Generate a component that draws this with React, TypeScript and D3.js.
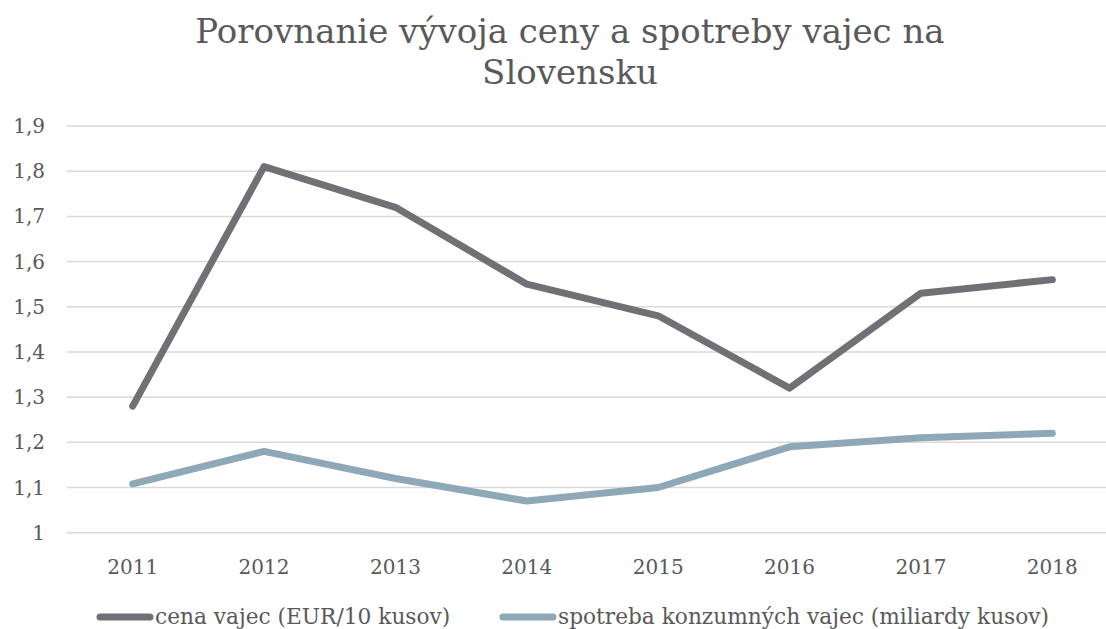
import React from "react";
import * as d3 from "d3";

const years = ["2011", "2012", "2013", "2014", "2015", "2016", "2017", "2018"];
const priceValues = [1.28, 1.81, 1.72, 1.55, 1.48, 1.32, 1.53, 1.56];
const consumptionValues = [1.108, 1.18, 1.12, 1.07, 1.1, 1.19, 1.21, 1.22];
const yTicks = [1, 1.1, 1.2, 1.3, 1.4, 1.5, 1.6, 1.7, 1.8, 1.9];
const seriesNames = ["cena vajec (EUR/10 kusov)", "spotreba konzumných vajec (miliardy kusov)"];
const titleLines = ["Porovnanie vývoja ceny a spotreby vajec na", "Slovensku"];

const W = 1106;
const H = 629;
const FONT = "'DejaVu Serif'";
const TEXT = "#595959";
const COLORS = ["#717075", "#8FA8B8"];

export default function App() {
  const x = d3.scalePoint<string>().domain(years).range([67, 1118]).padding(0.5);
  const y = d3.scaleLinear().domain([1, 1.9]).range([532.7, 126]);
  const line = d3
    .line<number>()
    .x((_, i) => x(years[i]) as number)
    .y((d) => y(d));
  const series = [priceValues, consumptionValues];
  const fmt = (v: number) => (Math.round(v * 10) / 10).toString().replace(".", ",");
  const ts = { fontFamily: FONT };

  return (
    <svg width={W} height={H} style={{ position: "absolute", left: 0, top: 0, background: "#fff" }}>
      <rect x={0} y={0} width={W} height={H} fill="#fff" />
      {titleLines.map((t, i) => (
        <text key={i} x={570} y={43 + i * 41} textAnchor="middle" fontSize={34} fill={TEXT} style={ts}>
          {t}
        </text>
      ))}
      {yTicks.map((t) => (
        <g key={t}>
          <line x1={67} x2={W} y1={y(t)} y2={y(t)} stroke="#d9d9d9" strokeWidth={1.5} />
          <text x={45} y={y(t) + 7} textAnchor="end" fontSize={20} fill={TEXT} style={ts}>
            {fmt(t)}
          </text>
        </g>
      ))}
      {years.map((yr) => (
        <text key={yr} x={x(yr)} y={574} textAnchor="middle" fontSize={20} fill={TEXT} style={ts}>
          {yr}
        </text>
      ))}
      {series.map((s, i) => (
        <path
          key={i}
          d={line(s) as string}
          fill="none"
          stroke={COLORS[i]}
          strokeWidth={7}
          strokeLinecap="round"
          strokeLinejoin="round"
        />
      ))}
      {seriesNames.map((n, i) => {
        const x0 = i === 0 ? 100 : 503;
        return (
          <g key={n}>
            <line x1={x0} x2={x0 + 50} y1={617} y2={617} stroke={COLORS[i]} strokeWidth={7} strokeLinecap="round" />
            <text x={x0 + 55} y={624} fontSize={21.7} fill={TEXT} style={ts}>
              {n}
            </text>
          </g>
        );
      })}
    </svg>
  );
}
